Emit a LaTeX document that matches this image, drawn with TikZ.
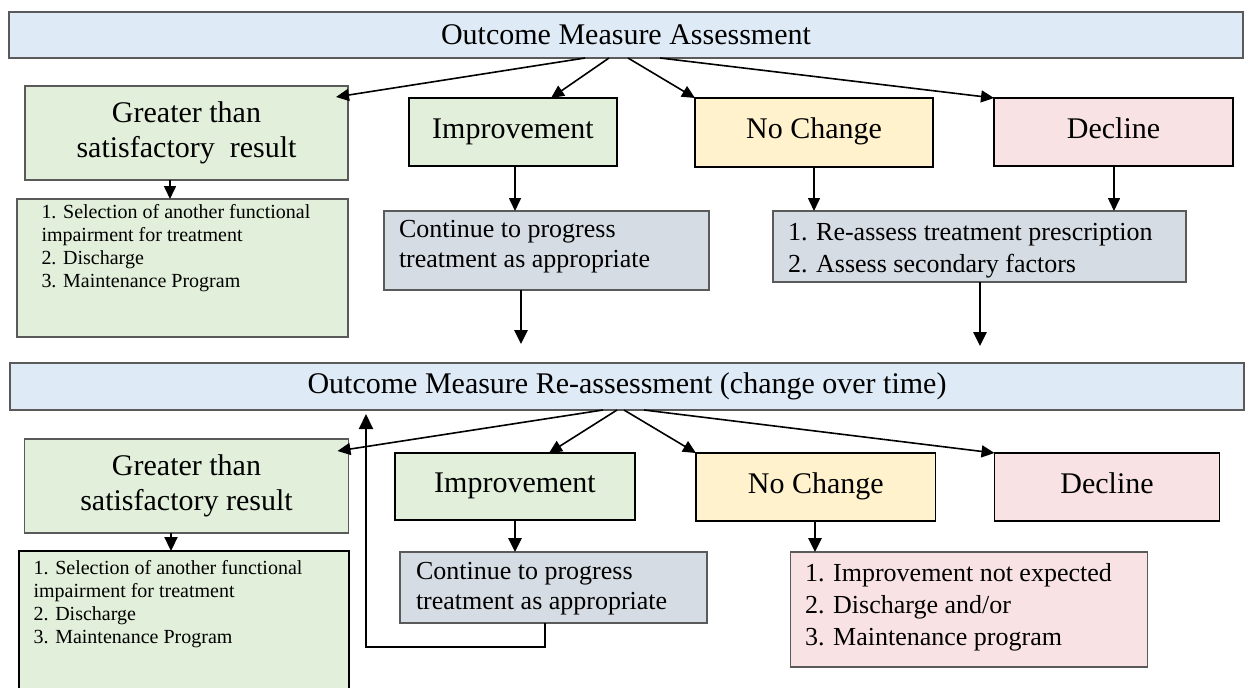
\documentclass[tikz,border=0pt]{standalone}
\usepackage{fontspec}
\setmainfont{Liberation Serif}
\usetikzlibrary{arrows.meta,calc}
\definecolor{bannerfill}{HTML}{DEEAF6}
\definecolor{greenfill}{HTML}{E2EFDA}
\definecolor{yellowfill}{HTML}{FFF2CC}
\definecolor{pinkfill}{HTML}{F9E2E4}
\definecolor{grayfill}{HTML}{D6DCE4}
\definecolor{bordergray}{HTML}{5A5A5A}
\begin{document}
\begin{tikzpicture}[x=1pt,y=-1pt,
  box/.style={draw, line width=1.4pt, inner sep=0pt, outer sep=0pt, align=center},
  banner/.style={box, draw=bordergray, fill=bannerfill, font=\fontsize{30}{35}\selectfont},
  head/.style={box, font=\fontsize{30}{35}\selectfont},
  onehead/.style={head, text height=19pt, text depth=7pt},
  listtxt/.style={inner sep=0pt, outer sep=0pt, anchor=north west, align=left},
  small/.style={listtxt, font=\fontsize{20}{23}\selectfont},
  mid/.style={listtxt, font=\fontsize{26}{30}\selectfont},
  midb/.style={listtxt, font=\fontsize{26}{32}\selectfont},
  arr/.style={line width=1.6pt, -{Triangle[length=13pt,width=12pt]}},
  thick arr/.style={line width=2.8pt, -{Triangle[length=14pt,width=13pt]}},
]
\clip (0,0) rectangle (1245,688);
\fill[white] (0,0) rectangle (1245,688);

% ---------- top row ----------
\node[banner, minimum width=1234pt, minimum height=46pt] (top) at (626,35) {Outcome Measure Assessment};

\node[head, draw=bordergray, fill=greenfill, minimum width=323pt, minimum height=94pt] (g1) at (186.5,133) {Greater than\\satisfactory~~result};
\node[box, draw=bordergray, fill=greenfill, minimum width=331pt, minimum height=138pt] (s1) at (182.5,268) {};
\node[small] (s1t) at (41.5,204.5) {1. Selection of another functional\\impairment for treatment\\2. Discharge\\3. Maintenance Program};

\node[onehead, draw=black, fill=greenfill, minimum width=208pt, minimum height=68pt] (i1) at (513,132) {Improvement};
\node[onehead, draw=black, fill=yellowfill, minimum width=238pt, minimum height=69pt] (n1) at (814,132.5) {No Change};
\node[onehead, draw=black, fill=pinkfill, minimum width=239pt, minimum height=68pt] (d1) at (1113.5,132) {Decline};

\node[box, draw=bordergray, fill=grayfill, minimum width=325pt, minimum height=79pt] (c1) at (546.5,250.5) {};
\node[mid] (c1t) at (399,220.5) {Continue to progress\\treatment as appropriate};

\node[box, draw=bordergray, fill=grayfill, minimum width=413pt, minimum height=71pt] (r1) at (979.5,246.5) {};
\node[midb] (r1t) at (788,223.5) {1. Re-assess treatment prescription\\2. Assess secondary factors};

\coordinate (c1end) at (521,344);
\coordinate (r1end) at (980,346);

\draw[arr] (top.south -| 585,0) -- ($(g1.north east)+(-12,11)$);
\draw[arr] (top.south -| 609,0) -- (i1.north -| 551,0);
\draw[arr] (top.south -| 628,0) -- (n1.north west);
\draw[arr] (top.south -| 660,0) -- (d1.north west);

\draw[arr] (g1.south -| 170,0) -- (s1.north -| 170,0);
\draw[arr] (i1.south -| 515,0) -- (c1.north -| 515,0);
\draw[arr] (n1.south -| 814,0) -- (r1.north -| 814,0);
\draw[arr] (d1.south -| 1114,0) -- (r1.north -| 1114,0);
\draw[thick arr] (c1.south -| c1end) -- (c1end);
\draw[thick arr] (r1.south -| r1end) -- (r1end);

% ---------- bottom row ----------
\node[banner, minimum width=1234pt, minimum height=47pt] (bot) at (627,386.5) {Outcome Measure Re-assessment (change over time)};

\node[head, draw=bordergray, fill=greenfill, minimum width=324pt, minimum height=94pt] (g2) at (186.5,486) {Greater than\\satisfactory result};
\node[box, draw=black, fill=greenfill, minimum width=330pt, minimum height=150pt] (s2) at (184,626) {};
\node[small] (s2t) at (33.6,560.5) {1. Selection of another functional\\impairment for treatment\\2. Discharge\\3. Maintenance Program};

\node[onehead, draw=black, fill=greenfill, minimum width=240pt, minimum height=67pt] (i2) at (515,486.5) {Improvement};
\node[onehead, draw=black, fill=yellowfill, minimum width=239.5pt, minimum height=68pt] (n2) at (815.75,487) {No Change};
\node[onehead, draw=black, fill=pinkfill, minimum width=225pt, minimum height=68pt] (d2) at (1107,487) {Decline};

\node[box, draw=bordergray, fill=grayfill, minimum width=307pt, minimum height=71pt] (c2) at (553.5,587.5) {};
\node[mid] (c2t) at (416,562.5) {Continue to progress\\treatment as appropriate};

\node[box, draw=bordergray, fill=pinkfill, minimum width=357.5pt, minimum height=115pt] (p2) at (969,609.5) {};
\node[midb] (p2t) at (805,563.5) {1. Improvement not expected\\2. Discharge and/or\\3. Maintenance program};

\draw[arr] (bot.south -| 603,0) -- ($(g2.north east)+(-11,12)$);
\draw[arr] (bot.south -| 617,0) -- (i2.north -| 549,0);
\draw[arr] (bot.south -| 624,0) -- (n2.north west);
\draw[arr] (bot.south -| 644,0) -- (d2.north west);

\draw[thick arr, line width=2.2pt] (g2.south -| 171,0) -- (s2.north -| 171,0);
\draw[thick arr] (i2.south -| 515,0) -- (c2.north -| 515,0);
\draw[thick arr] (n2.south -| 815,0) -- (p2.north -| 815,0);

\coordinate (loopA) at (545,647);
\coordinate (loopB) at (366,647);
\coordinate (loopC) at (366,414);
\draw[line width=2pt, -{Triangle[length=15pt,width=14pt]}] (c2.south -| loopA) -- (loopA) -- (loopB) -- (loopC);
\end{tikzpicture}
\end{document}
